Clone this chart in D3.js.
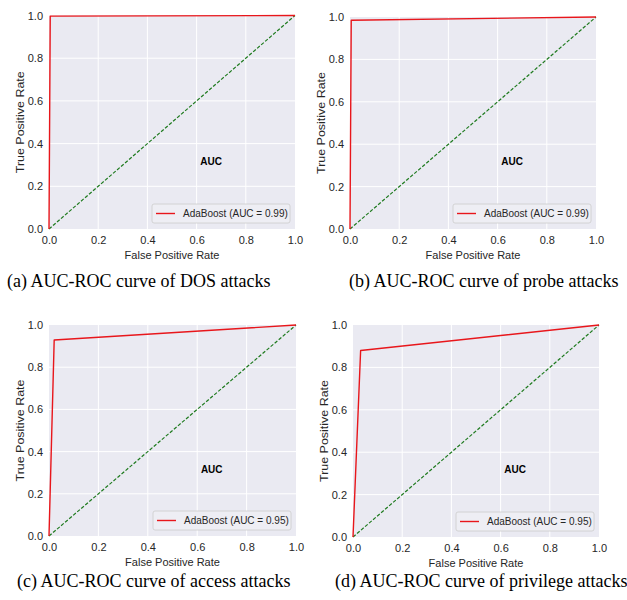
<!DOCTYPE html>
<html>
<head>
<meta charset="utf-8">
<script src="https://cdn.jsdelivr.net/npm/d3@7"></script>
<style>
  body { margin: 0; background: #ffffff; }
  svg { display: block; }
  .tick-label { font-family: "Liberation Sans", Arial, sans-serif; font-size: 11px; fill: #262626; }
  .axis-label { font-family: "Liberation Sans", Arial, sans-serif; font-size: 11px; fill: #262626; }
  .legend-text { font-family: "Liberation Sans", Arial, sans-serif; font-size: 10px; fill: #262626; }
  .auc-text { font-family: "Liberation Sans", Arial, sans-serif; font-size: 10px; font-weight: bold; fill: #000; }
  .caption { font-family: "Liberation Serif", "Times New Roman", serif; font-size: 18px; fill: #000; }
</style>
</head>
<body>
<script>
// ROC curves of AdaBoost, one panel per attack type

// tick values shared by both axes
const tickValues = [0.0, 0.2, 0.4, 0.6, 0.8, 1.0];

// ROC points (FPR, TPR)
const fprDos = [0, 0.005, 1];
const tprDos = [0, 0.997, 1];

const fprProbe = [0, 0.005, 1];
const tprProbe = [0, 0.985, 1];

const fprAccess = [0, 0.021, 1];
const tprAccess = [0, 0.929, 1];

const fprPrivilege = [0, 0.031, 1];
const tprPrivilege = [0, 0.880, 1];

// chance line
const chanceLine = [0, 1];

const aucLabels = ["0.99", "0.99", "0.95", "0.95"];
const captions = [
    "(a) AUC-ROC curve of DOS attacks",
    "(b) AUC-ROC curve of probe attacks",
    "(c) AUC-ROC curve of access attacks",
    "(d) AUC-ROC curve of privilege attacks"
];

// where each plot area sits on the page
const layout = [
    {left: 49,  top: 15.5, right: 295, bottom: 229, capX: 7,   capY: 287},
    {left: 350, top: 17,   right: 596, bottom: 229, capX: 349, capY: 287},
    {left: 49,  top: 325,  right: 296, bottom: 536, capX: 17,  capY: 587},
    {left: 353, top: 325,  right: 599, bottom: 537, capX: 335, capY: 587}
];

const curves = [
    [fprDos, tprDos],
    [fprProbe, tprProbe],
    [fprAccess, tprAccess],
    [fprPrivilege, tprPrivilege]
];

const width = 627;
const height = 600;

const svg = d3.select("body")
    .append("svg")
    .attr("width", width)
    .attr("height", height);

curves.forEach((c, i) => drawPanel(c[0], c[1], aucLabels[i], captions[i], layout[i]));

function drawPanel(fpr, tpr, auc, caption, box) {
    const g = svg.append("g");

    const x = d3.scaleLinear().domain([0, 1]).range([box.left, box.right]);
    const y = d3.scaleLinear().domain([0, 1]).range([box.bottom, box.top]);

    // seaborn darkgrid background
    g.append("rect")
        .attr("x", x(0))
        .attr("y", y(1))
        .attr("width", x(1) - x(0))
        .attr("height", y(0) - y(1))
        .attr("fill", "#eaeaf2");

    // white grid lines
    g.append("g")
        .selectAll("line")
        .data(tickValues.slice(1, -1))
        .join("line")
        .attr("x1", d => x(d)).attr("x2", d => x(d))
        .attr("y1", y(0)).attr("y2", y(1))
        .attr("stroke", "#ffffff")
        .attr("stroke-width", 1);

    g.append("g")
        .selectAll("line")
        .data(tickValues.slice(1, -1))
        .join("line")
        .attr("y1", d => y(d)).attr("y2", d => y(d))
        .attr("x1", x(0)).attr("x2", x(1))
        .attr("stroke", "#ffffff")
        .attr("stroke-width", 1);

    // axes without domain lines or tick marks, only labels
    const xAxis = g.append("g")
        .attr("transform", `translate(0,${y(0)})`)
        .call(d3.axisBottom(x).tickValues(tickValues).tickFormat(d3.format(".1f")).tickSize(0).tickPadding(7));
    xAxis.select(".domain").remove();
    xAxis.selectAll("text").attr("class", "tick-label");
    xAxis.attr("font-size", null).attr("font-family", null);

    const yAxis = g.append("g")
        .attr("transform", `translate(${x(0)},0)`)
        .call(d3.axisLeft(y).tickValues(tickValues).tickFormat(d3.format(".1f")).tickSize(0).tickPadding(6));
    yAxis.select(".domain").remove();
    yAxis.selectAll("text").attr("class", "tick-label");
    yAxis.attr("font-size", null).attr("font-family", null);

    // chance diagonal
    const line = d3.line().x(d => x(d[0])).y(d => y(d[1]));

    g.append("path")
        .datum(d3.zip(chanceLine, chanceLine))
        .attr("d", line)
        .attr("fill", "none")
        .attr("stroke", "#1e7a1e")
        .attr("stroke-width", 1.2)
        .attr("stroke-dasharray", "3.5,1.8");

    // ROC curve
    g.append("path")
        .datum(d3.zip(fpr, tpr))
        .attr("d", line)
        .attr("fill", "none")
        .attr("stroke", "#e8161b")
        .attr("stroke-width", 1.4)
        .attr("stroke-linejoin", "round");

    // the bold "AUC" note
    g.append("text")
        .attr("class", "auc-text")
        .attr("x", x(0.615))
        .attr("y", y(0.3))
        .text("AUC");

    // legend in the lower right
    const legW = 138, legH = 19;
    const lx = x(1) - 5 - legW;
    const ly = y(0) - 6 - legH;
    g.append("rect")
        .attr("x", lx).attr("y", ly)
        .attr("width", legW).attr("height", legH)
        .attr("rx", 2)
        .attr("fill", "#eeeef4")
        .attr("stroke", "#cccccc")
        .attr("stroke-width", 0.8);
    g.append("line")
        .attr("x1", lx + 4).attr("x2", lx + 23)
        .attr("y1", ly + legH / 2).attr("y2", ly + legH / 2)
        .attr("stroke", "#e8161b")
        .attr("stroke-width", 1.4);
    g.append("text")
        .attr("class", "legend-text")
        .attr("x", lx + 31)
        .attr("y", ly + legH / 2)
        .attr("dy", "0.35em")
        .text(`AdaBoost (AUC = ${auc})`);

    // axis titles (the source figure is stretched a bit vertically)
    g.append("text")
        .attr("class", "axis-label")
        .attr("text-anchor", "middle")
        .attr("x", (x(0) + x(1)) / 2)
        .attr("y", y(0) + 29.5)
        .text("False Positive Rate");

    g.append("text")
        .attr("class", "axis-label")
        .attr("text-anchor", "middle")
        .attr("transform", `translate(${x(0) - 25},${(y(0) + y(1)) / 2}) rotate(-90)`)
        .attr("textLength", 102)
        .attr("lengthAdjust", "spacingAndGlyphs")
        .text("True Positive Rate");

    // caption under the panel
    svg.append("text")
        .attr("class", "caption")
        .attr("x", box.capX)
        .attr("y", box.capY)
        .text(caption);
}
</script>
</body>
</html>
